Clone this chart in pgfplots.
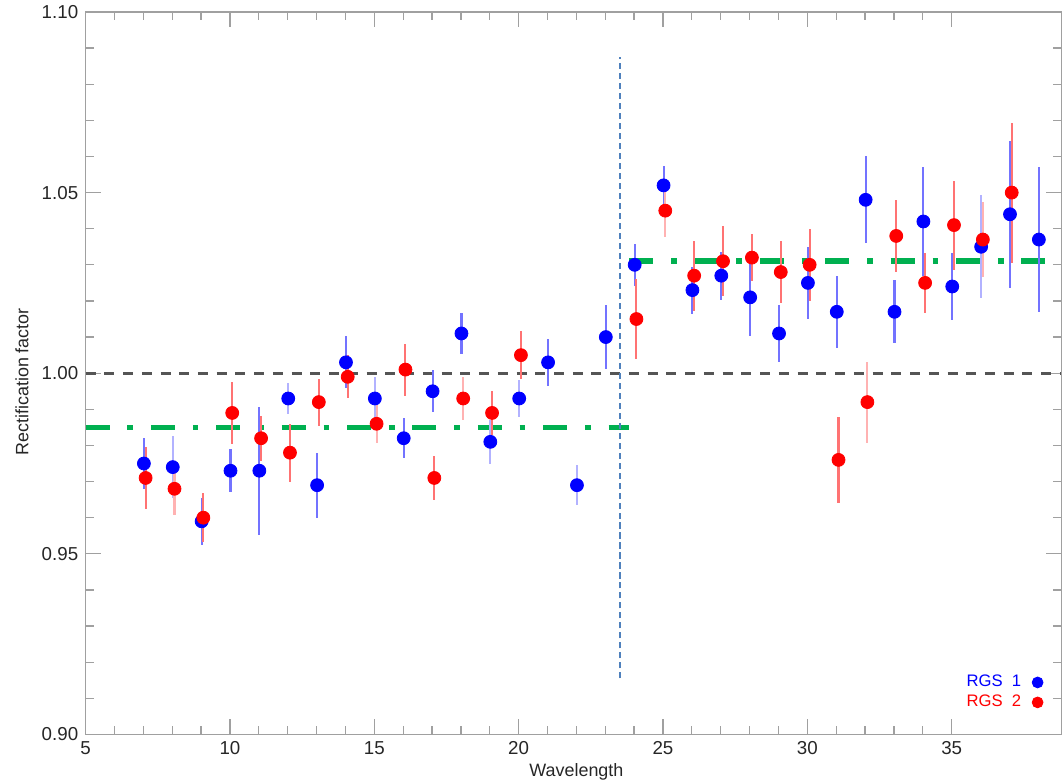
\documentclass[border=0pt]{standalone}
\usepackage{fontspec}
\setmainfont{Liberation Sans}
\usepackage{pgfplots}
\usepackage{pgfplotstable}
\pgfplotsset{compat=1.18}
\usetikzlibrary{calc}
\definecolor{axisgrey}{HTML}{A0A0A0}
\definecolor{refgrey}{HTML}{555555}
\definecolor{fitgreen}{HTML}{00B050}
\definecolor{edgeblue}{HTML}{4F81BD}

% RGS 1 (blue): wavelength, factor, error
\pgfplotstableread{
x y e
7.02 0.975 0.0070
9.02 0.959 0.0065
10.02 0.973 0.0060
11.02 0.973 0.0177
13.02 0.969 0.0090
14.02 1.003 0.0072
16.02 0.982 0.0055
17.02 0.995 0.0058
18.02 1.011 0.0058
21.02 1.003 0.0065
23.02 1.010 0.0089
24.02 1.030 0.0058
25.02 1.052 0.0055
26.02 1.023 0.0065
27.02 1.027 0.0066
28.02 1.021 0.0107
29.02 1.011 0.0080
30.02 1.025 0.0100
31.02 1.017 0.0100
32.02 1.048 0.0120
33.02 1.017 0.0087
34.02 1.042 0.0150
35.02 1.024 0.0093
37.02 1.044 0.0204
38.02 1.037 0.0200
}\rgsone
\pgfplotstableread{
x y e
8.02 0.974 0.0086
12.02 0.993 0.0042
15.02 0.993 0.0060
19.02 0.981 0.0060
20.02 0.993 0.0050
22.02 0.969 0.0055
36.02 1.035 0.0143
}\rgsonelight

% RGS 2 (red)
\pgfplotstableread{
x y e
7.08 0.971 0.0087
9.08 0.960 0.0067
10.08 0.989 0.0085
11.08 0.982 0.0062
12.08 0.978 0.0080
13.08 0.992 0.0065
14.08 0.999 0.0060
16.08 1.001 0.0072
17.08 0.971 0.0060
19.08 0.989 0.0060
20.08 1.005 0.0067
24.08 1.015 0.0110
26.08 1.027 0.0097
27.08 1.031 0.0097
28.08 1.032 0.0066
29.08 1.028 0.0086
30.08 1.030 0.0100
31.08 0.976 0.0120
33.08 1.038 0.0100
34.08 1.025 0.0084
35.08 1.041 0.0123
37.08 1.050 0.0194
}\rgstwo
\pgfplotstableread{
x y e
8.08 0.968 0.0072
15.08 0.986 0.0052
18.08 0.993 0.0060
25.08 1.045 0.0072
32.08 0.992 0.0112
36.08 1.037 0.0103
}\rgstwolight

\begin{document}
\begin{tikzpicture}
\begin{axis}[
  width=468.7pt, height=347pt, scale only axis,
  xmin=5, xmax=38.8, ymin=0.90, ymax=1.10,
  xtick={5,10,15,20,25,30,35}, minor x tick num=4,
  ytick={0.90,0.95,1.00,1.05,1.10}, minor y tick num=4,
  yticklabel style={/pgf/number format/.cd,fixed,fixed zerofill,precision=2},
  /pgf/number format/assume math mode=true,
  ticklabel style={font=\fontsize{9}{10}\selectfont, black!85},
  tick align=inside, major tick length=7.4pt, minor tick length=4pt,
  axis line style={axisgrey,line width=0.6pt},
  tick style={axisgrey,line width=0.6pt},
  xlabel={Wavelength}, ylabel={Rectification factor},
  label style={font=\fontsize{8.6}{10}\selectfont, black!85},
  xlabel style={at={(axis description cs:0.503,-0.0525)},anchor=center},
  ylabel style={at={(axis description cs:-0.0651,0.488)},anchor=center},
  legend style={draw=none,fill=none,at={(axis description cs:0.988,0.022)},anchor=south east,
    font=\fontsize{8}{9.6}\selectfont,row sep=-1.5pt},
  legend cell align=right, legend plot pos=right,
  legend image code/.code={\path (0.1cm,0cm);
    \draw[mark=*,#1,mark size=2.6pt] plot coordinates {(0.3cm,0cm)};},
  clip=false,
]
\coordinate (bl) at (rel axis cs:0,0);
\coordinate (tr) at (rel axis cs:1,1);

% reference level at unity
\addplot[refgrey,line width=1.4pt,dash pattern=on 4.8pt off 4.2pt,forget plot]
  coordinates {(5,1.0) (38.8,1.0)};
% mean levels either side of the edge
\addplot[fitgreen,line width=2.7pt,dash pattern=on 11.5pt off 8.6pt on 2.7pt off 8.6pt,forget plot]
  coordinates {(5,0.985) (23.83,0.985)};
\addplot[fitgreen,line width=2.7pt,dash pattern=on 11.5pt off 8.6pt on 2.7pt off 8.6pt,forget plot]
  coordinates {(23.83,1.031) (38.8,1.031)};
% edge position
\addplot[edgeblue,line width=0.9pt,dash pattern=on 2.9pt off 1.9pt,forget plot]
  coordinates {(23.5,0.9155) (23.5,1.0875)};

\addplot[only marks,mark=*,mark size=3.1pt,color=blue,
  error bars/.cd,y dir=both,y explicit,error mark=none,
  error bar style={line width=1pt,blue!55}]
  table[x=x,y=y,y error=e]{\rgsone};
\addlegendentry{\textcolor{blue}{RGS~~1}}
\addplot[only marks,mark=*,mark size=3.1pt,color=blue,forget plot,
  error bars/.cd,y dir=both,y explicit,error mark=none,
  error bar style={line width=1pt,blue!30}]
  table[x=x,y=y,y error=e]{\rgsonelight};
\addplot[only marks,mark=*,mark size=3.1pt,color=red,
  error bars/.cd,y dir=both,y explicit,error mark=none,
  error bar style={line width=1pt,red!55}]
  table[x=x,y=y,y error=e]{\rgstwo};
\addlegendentry{\textcolor{red}{RGS~~2}}
\addplot[only marks,mark=*,mark size=3.1pt,color=red,forget plot,
  error bars/.cd,y dir=both,y explicit,error mark=none,
  error bar style={line width=1pt,red!30}]
  table[x=x,y=y,y error=e]{\rgstwolight};
\end{axis}
\pgfresetboundingbox
\path[use as bounding box] ($(bl)+(-41.1pt,-23.5pt)$) rectangle ($(tr)+(0.3pt,5.76pt)$);
\end{tikzpicture}
\end{document}
